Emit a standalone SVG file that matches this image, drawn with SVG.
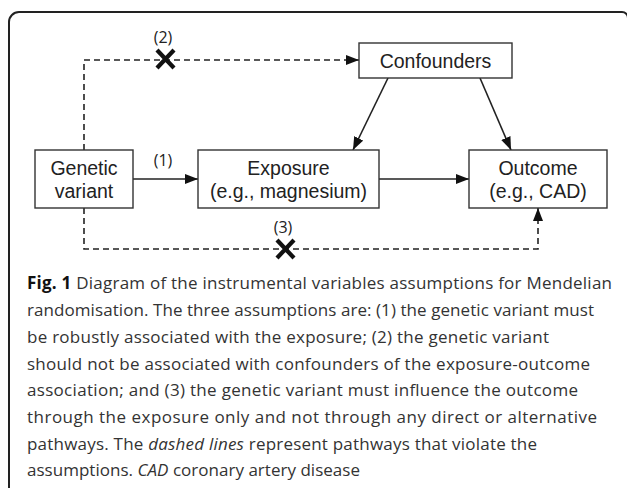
<svg xmlns="http://www.w3.org/2000/svg" width="627" height="488" viewBox="0 0 627 488">
<style>
.box{fill:#fff;stroke:#333;stroke-width:1.4}
.lbl{font-family:"Liberation Sans",Arial,sans-serif;font-size:19.5px;fill:#222;text-anchor:middle}
.num{font-family:"Open Sans","Noto Sans",sans-serif;font-size:16px;fill:#222;text-anchor:middle}
.edge{stroke:#222;stroke-width:1.6;fill:none}
.dash{stroke:#222;stroke-width:1.6;fill:none;stroke-dasharray:6 4}
.cross{stroke:#111;stroke-width:4.2;stroke-linecap:butt}
.cap{font-family:"Open Sans","Noto Sans",sans-serif;font-size:17px;fill:#333}
</style>
<defs>
<marker id="ah" viewBox="0 0 13 10" refX="13" refY="5" markerWidth="13" markerHeight="10" markerUnits="userSpaceOnUse" orient="auto">
<path d="M0,0 L13,5 L0,10 Z" fill="#111"/>
</marker>
</defs>
<path d="M9,488 V22 A10,10 0 0 1 19,12 H622 A6,6 0 0 1 628,18 V488" fill="none" stroke="#222" stroke-width="2"/>
<g id="connectors">
<line class="edge" x1="133" y1="179" x2="198" y2="179" marker-end="url(#ah)"/>
<line class="edge" x1="379" y1="179" x2="469" y2="179" marker-end="url(#ah)"/>
<line class="edge" x1="388" y1="78" x2="353" y2="150" marker-end="url(#ah)"/>
<line class="edge" x1="480" y1="78" x2="511" y2="150" marker-end="url(#ah)"/>
<path class="dash" d="M84,150 V60 H359" marker-end="url(#ah)"/>
<path class="dash" d="M84,208 V249 H538 V208" marker-end="url(#ah)"/>
<path class="cross" d="M157,50 L174,68 M174,50 L157,68"/>
<path class="cross" d="M277,240 L294,258 M294,240 L277,258"/>
<text class="num" x="163" y="43">(2)</text>
<text class="num" x="163" y="166">(1)</text>
<text class="num" x="283" y="233">(3)</text>
</g>
<g id="genetic">
<rect class="box" x="35" y="150" width="98" height="58"/>
<text class="lbl" x="84" y="175">Genetic</text>
<text class="lbl" x="84" y="198">variant</text>
</g>
<g id="exposure">
<rect class="box" x="198" y="150" width="181" height="58"/>
<text class="lbl" x="288.5" y="175">Exposure</text>
<text class="lbl" x="288.5" y="198">(e.g., magnesium)</text>
</g>
<g id="outcome">
<rect class="box" x="469" y="150" width="138" height="58"/>
<text class="lbl" x="538" y="175">Outcome</text>
<text class="lbl" x="538" y="198">(e.g., CAD)</text>
</g>
<g id="confounders">
<rect class="box" x="359" y="43" width="153" height="35"/>
<text class="lbl" x="435.5" y="68">Confounders</text>
</g>
<g id="caption">
<text class="cap" x="27" y="289" textLength="585" lengthAdjust="spacing"><tspan font-weight="bold" fill="#111">Fig. 1</tspan> Diagram of the instrumental variables assumptions for Mendelian</text>
<text class="cap" x="27" y="316" textLength="567" lengthAdjust="spacing">randomisation. The three assumptions are: (1) the genetic variant must</text>
<text class="cap" x="27" y="343" textLength="522" lengthAdjust="spacing">be robustly associated with the exposure; (2) the genetic variant</text>
<text class="cap" x="27" y="369.5" textLength="563" lengthAdjust="spacing">should not be associated with confounders of the exposure-outcome</text>
<text class="cap" x="27" y="396" textLength="551" lengthAdjust="spacing">association; and (3) the genetic variant must influence the outcome</text>
<text class="cap" x="27" y="423" textLength="570" lengthAdjust="spacing">through the exposure only and not through any direct or alternative</text>
<text class="cap" x="27" y="449.5" textLength="510" lengthAdjust="spacing">pathways. The <tspan font-style="italic">dashed lines</tspan> represent pathways that violate the</text>
<text class="cap" x="27" y="476" textLength="333" lengthAdjust="spacing">assumptions. <tspan font-style="italic">CAD</tspan> coronary artery disease</text>
</g>
</svg>
